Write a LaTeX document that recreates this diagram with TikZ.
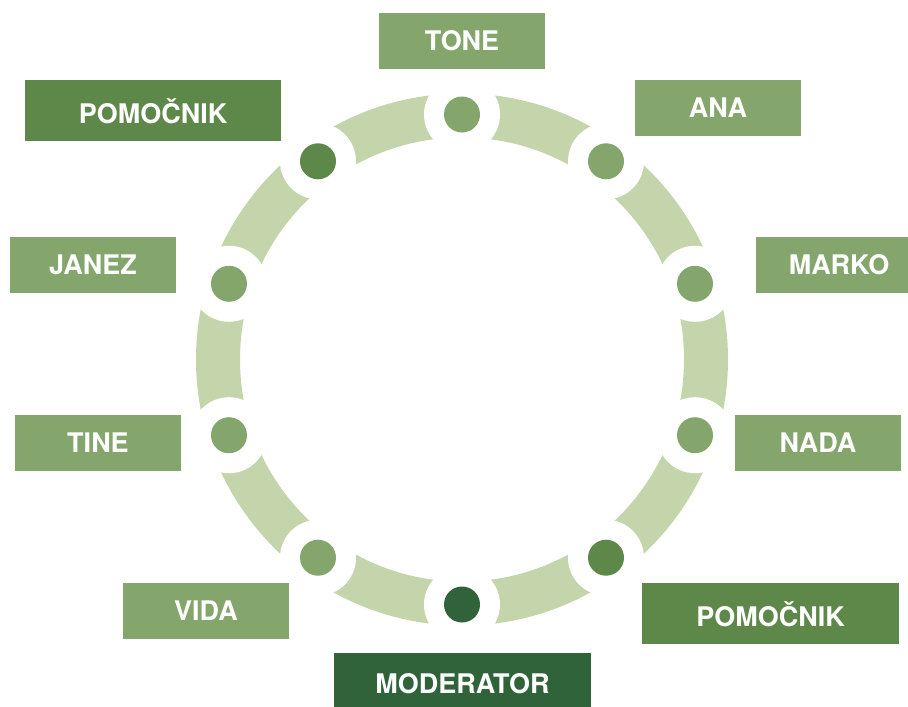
\documentclass[tikz,border=0pt]{standalone}
\usepackage{fontspec}
\setmainfont{TeX Gyre Heros}
\definecolor{boxlight}{HTML}{84A56B}
\definecolor{ringc}{HTML}{C5D5AB}
\definecolor{boxdark}{HTML}{5E8849}
\definecolor{boxmod}{HTML}{31633A}
\begin{document}
\begin{tikzpicture}[x=1pt,y=-1pt,
  lbl/.style={fill=boxlight, text=white, inner sep=0pt, minimum width=166pt, minimum height=56pt,
    font=\fontsize{27}{31}\selectfont\bfseries, text height=19.4pt, text depth=0pt},
  lbldark/.style={lbl, fill=boxdark, minimum width=256pt, minimum height=61pt, text height=26.4pt},
  lblmod/.style={lbl, fill=boxmod, minimum width=257pt, minimum height=54pt, text height=26.4pt},
  gap/.style={circle, fill=white, minimum size=76pt, inner sep=0pt},
  dot/.style={circle, fill=boxlight, minimum size=36pt, inner sep=0pt},
  ring/.style={draw=ringc, line width=44pt}]
\useasboundingbox (0,0) rectangle (908,707);
\coordinate (c) at (462,359.5);
\draw[ring] (c) circle[radius=244pt];
% gaps and dots
\foreach \a/\n in {90/d0,54/d1,18/d2,-18/d3,-54/d4,-90/d5,-126/d6,-162/d7,162/d8,126/d9}{
  \node[gap] (g\n) at ({462+245*cos(\a)},{359.5-245*sin(\a)}) {};
}
\node[dot] (tonedot) at (gd0) {};
\node[dot] (anadot) at (gd1) {};
\node[dot] (markodot) at (gd2) {};
\node[dot] (nadadot) at (gd3) {};
\node[dot, fill=boxdark] (pomrdot) at (gd4) {};
\node[dot, fill=boxmod] (moddot) at (gd5) {};
\node[dot] (vidadot) at (gd6) {};
\node[dot] (tinedot) at (gd7) {};
\node[dot] (janezdot) at (gd8) {};
\node[dot, fill=boxdark] (pomldot) at (gd9) {};
% labels
\node[lbl] (tone) at (462,41) {TONE};
\node[lbl] (ana) at (718,108) {ANA};
\node[lbl] (marko) at (839,265) {MARKO};
\node[lbl] (nada) at (818,443) {NADA};
\node[lbldark, minimum width=257pt] (pomr) at (770.5,613.5) {POMOČNIK};
\node[lblmod] (mod) at (462.5,680) {MODERATOR};
\node[lbl] (vida) at (206,611) {VIDA};
\node[lbl] (tine) at (98,443) {TINE};
\node[lbl] (janez) at (93,265) {JANEZ};
\node[lbldark] (poml) at (153,110.5) {POMOČNIK};
\end{tikzpicture}
\end{document}
